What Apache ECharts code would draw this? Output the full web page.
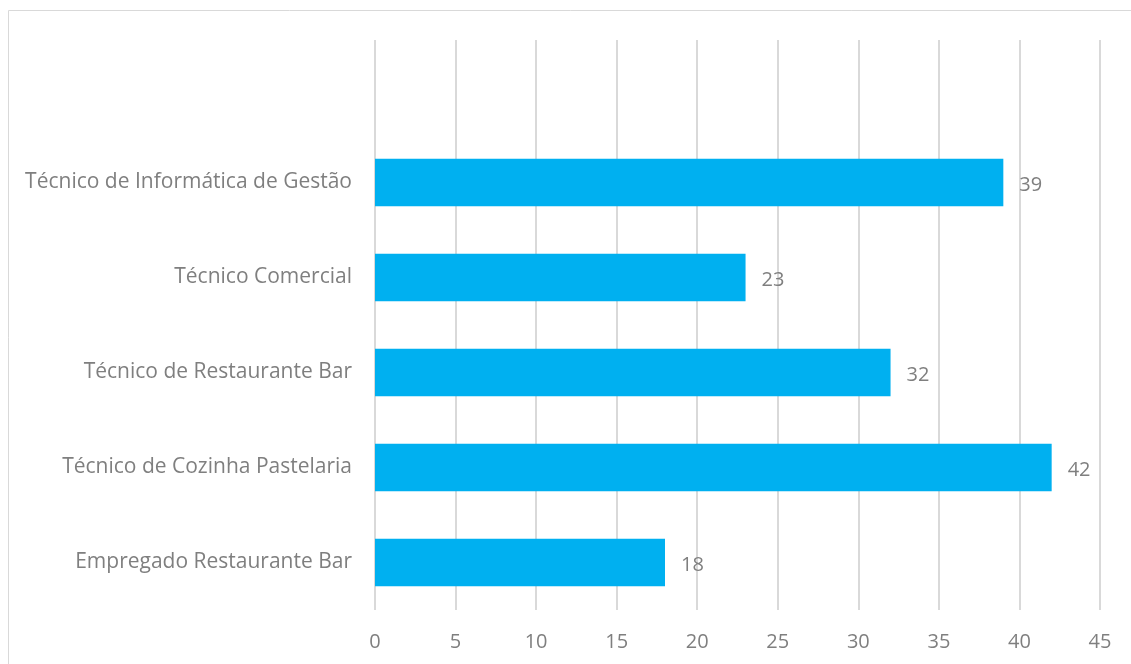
<!DOCTYPE html>
<html lang="pt">
<head>
<meta charset="UTF-8">
<title>Cursos</title>
<script src="https://cdn.jsdelivr.net/npm/echarts@6/dist/echarts.min.js"></script>
<style>
  html, body { margin: 0; padding: 0; background: #fff; }
  #chart { width: 1131px; height: 664px; }
</style>
</head>
<body>
<div id="chart"></div>
<script>
// categories from bottom to top; top slot is empty in the original
var cursos = ['Empregado Restaurante Bar', 'Técnico de Cozinha Pastelaria',
    'Técnico de Restaurante Bar', 'Técnico Comercial',
    'Técnico de Informática de Gestão', ''];
var alunos = [18, 42, 32, 23, 39, null];

var chart = echarts.init(document.getElementById('chart'));
var option = {
    animation: false,
    textStyle: { fontFamily: 'Open Sans' },
    graphic: [{
        type: 'rect',
        shape: { x: 8.5, y: 10.5, width: 1200, height: 700 },
        style: { fill: 'none', stroke: '#d9d9d9', lineWidth: 1 }
    }],
    grid: { left: 375, right: 31, top: 40, bottom: 54 },
    xAxis: {
        type: 'value',
        min: 0,
        max: 45,
        interval: 5,
        axisLine: { show: false },
        axisTick: { show: false },
        splitLine: { lineStyle: { color: '#d9d9d9', width: 2 } },
        axisLabel: { color: '#7f7f7f', fontSize: 20, margin: 22 }
    },
    yAxis: {
        type: 'category',
        data: cursos,
        axisLine: { show: false },
        axisTick: { show: false },
        axisLabel: { color: '#7f7f7f', fontSize: 21, margin: 23, padding: [10, 0, 0, 0] }
    },
    series: [{
        type: 'bar',
        data: alunos,
        barWidth: '50%',
        itemStyle: { color: '#00b0f0' },
        label: {
            show: true,
            position: 'right',
            distance: 16,
            color: '#7f7f7f',
            fontSize: 20,
            offset: [0, 3]
        }
    }]
};
chart.setOption(option);
</script>
</body>
</html>
